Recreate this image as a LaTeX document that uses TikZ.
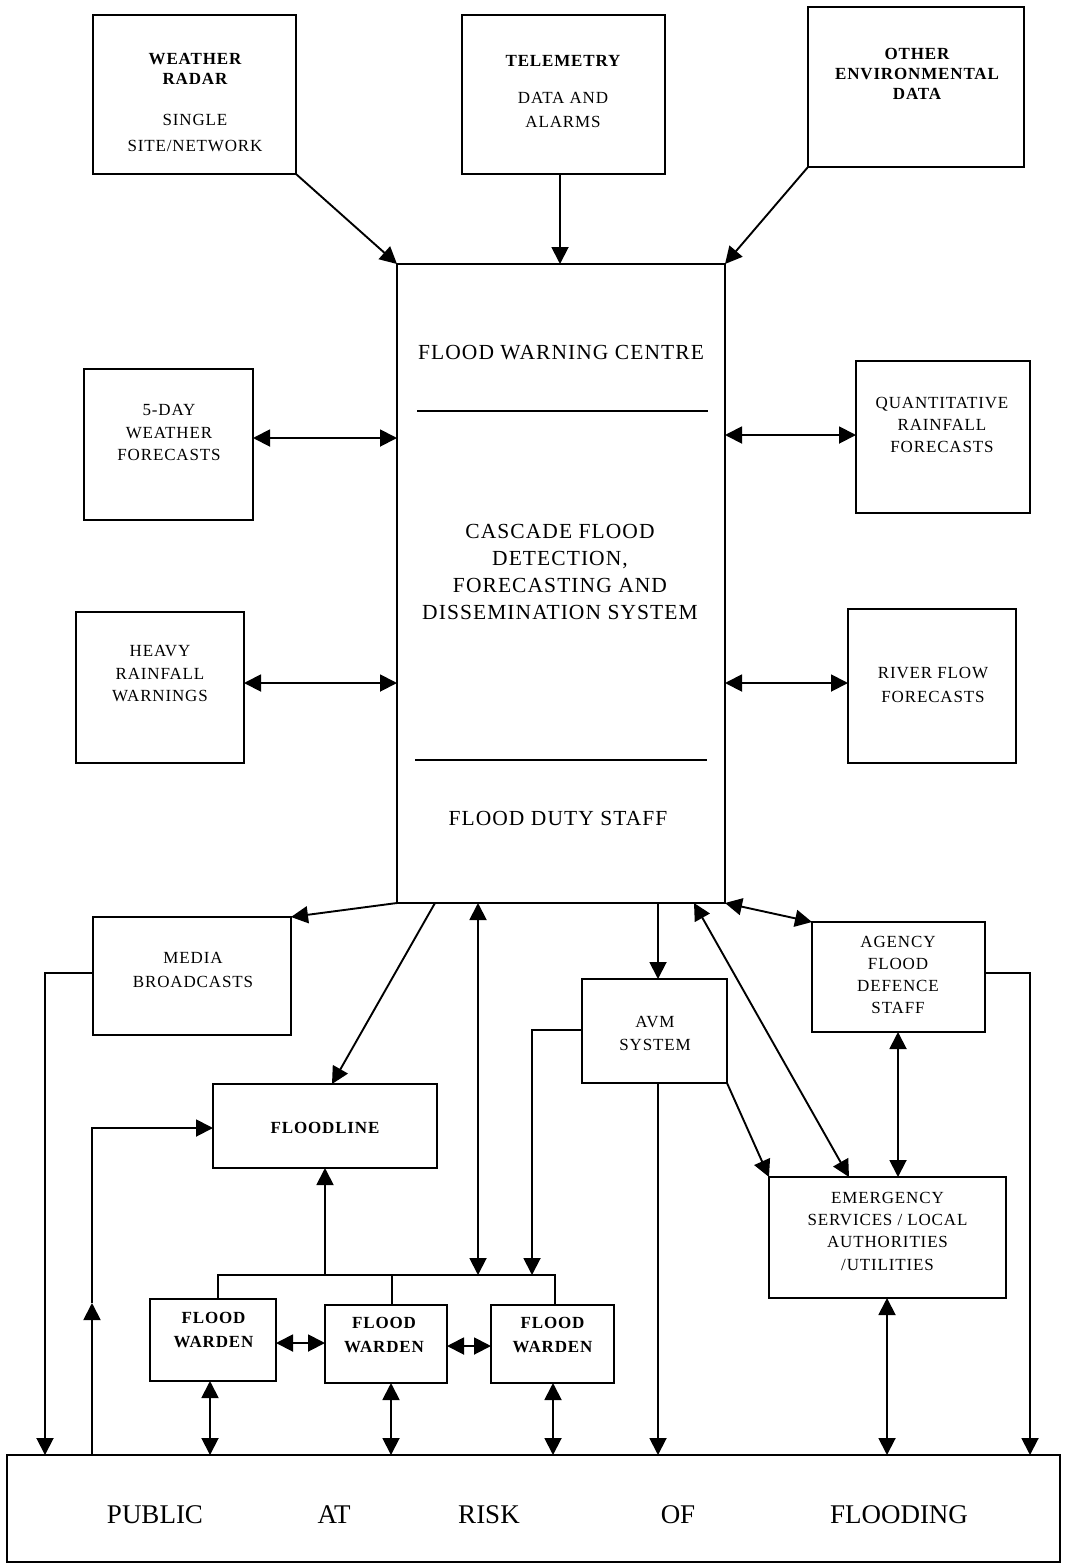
\documentclass[tikz,border=0pt]{standalone}
\usepackage{fontspec}
\setmainfont{Liberation Serif}
\newfontfamily\spaced[LetterSpace=5]{Liberation Serif}
\usetikzlibrary{arrows.meta,fit}
\begin{document}
\begin{tikzpicture}[x=1pt,y=-1pt,
  box/.style={draw,line width=1.9pt,inner sep=0pt,outer sep=0pt},
  link/.style={line width=1.9pt},
  tip/.style={-{Triangle[length=17pt,width=17pt]}},
  dtip/.style={{Triangle[length=17pt,width=17pt]}-{Triangle[length=17pt,width=17pt]}},
  sm/.style={align=center,inner sep=0pt,font=\spaced\fontsize{17}{#1}\selectfont},
  sm/.default=22.5,
  smb/.style={align=center,inner sep=0pt,font=\spaced\bfseries\fontsize{17}{#1}\selectfont},
  smb/.default=22.5,
  big/.style={align=center,inner sep=0pt,font=\spaced\fontsize{21.5}{26.7}\selectfont},
  pubtxt/.style={inner sep=0pt,font=\fontsize{27}{30}\selectfont}]
\useasboundingbox (0,0) rectangle (1069,1565);

% ---------- boxes ----------
\node[box,fit={(93,15) (296,174)}] (wr) {};
\node[box,fit={(462,15) (665,174)}] (tel) {};
\node[box,fit={(808,7) (1024,167)}] (oth) {};
\node[box,fit={(397,264) (725,903)}] (cen) {};
\node[box,fit={(84,369) (253,520)}] (fd) {};
\node[box,fit={(856,361) (1030,513)}] (qrf) {};
\node[box,fit={(76,612) (244,763)}] (hr) {};
\node[box,fit={(848,609) (1016,763)}] (rf) {};
\node[box,fit={(93,917) (291,1035)}] (med) {};
\node[box,fit={(213,1084) (437,1168)}] (fl) {};
\node[box,fit={(582,979) (727,1083)}] (avm) {};
\node[box,fit={(812,922) (985,1032)}] (ag) {};
\node[box,fit={(769,1177) (1006,1298)}] (em) {};
\node[box,fit={(150,1299) (276,1381)}] (w1) {};
\node[box,fit={(325,1305) (447,1383)}] (w2) {};
\node[box,fit={(491,1305) (614,1383)}] (w3) {};
\node[box,fit={(7,1455) (1060,1562)}] (pub) {};

% ---------- texts ----------
\node[smb=20] (twr1) at (195,69) {WEATHER\\RADAR};
\node[sm=26] (twr2) at (195,133.5) {SINGLE\\SITE/NETWORK};
\node[smb] (ttel1) at (563,61) {TELEMETRY};
\node[sm=24] (ttel2) at (563,110) {DATA AND\\ALARMS};
\node[smb=20] (toth) at (917,74) {OTHER\\ENVIRONMENTAL\\DATA};

\node[big] (tfwc) at (561,353) {FLOOD WARNING CENTRE};
\node[big] (tcas) at (560,572) {CASCADE FLOOD\\DETECTION,\\FORECASTING AND\\DISSEMINATION SYSTEM};
\node[big] (tfds) at (558,818) {FLOOD DUTY STAFF};
\draw[line width=1.6pt] (417,411) -- (708,411);
\draw[line width=1.6pt] (415,760) -- (707,760);

\node[sm] (tfd) at (169,432.5) {5-DAY\\WEATHER\\FORECASTS};
\node[sm=22] (tqrf) at (942,425) {QUANTITATIVE\\RAINFALL\\FORECASTS};
\node[sm] (thr) at (160,674) {HEAVY\\RAINFALL\\WARNINGS};
\node[sm=24] (trf) at (933,685) {RIVER FLOW\\FORECASTS};
\node[sm=24] (tmed) at (193,970) {MEDIA\\BROADCASTS};
\node[smb] (tfl) at (325,1128) {FLOODLINE};
\node[sm=23] (tavm) at (655,1033.5) {AVM\\SYSTEM};
\node[sm=22] (tag) at (898,975) {AGENCY\\FLOOD\\DEFENCE\\STAFF};
\node[sm=22.3] (tem) at (887.5,1231) {EMERGENCY\\SERVICES / LOCAL\\AUTHORITIES\\/UTILITIES};
\node[smb=24] (tw1) at (213.5,1330) {FLOOD\\WARDEN};
\node[smb=24] (tw2) at (384,1335) {FLOOD\\WARDEN};
\node[smb=24] (tw3) at (552.5,1335) {FLOOD\\WARDEN};

\node[pubtxt] (p1) at (155,1515) {PUBLIC};
\node[pubtxt] (p2) at (334,1515) {AT};
\node[pubtxt] (p3) at (489,1515) {RISK};
\node[pubtxt] (p4) at (678,1515) {OF};
\node[pubtxt] (p5) at (899,1515) {FLOODING};

% ---------- inputs to the centre ----------
\draw[link,tip] (wr.south east) -- (cen.north west);
\draw[link,tip] (tel.south -| 560,0) -- (cen.north -| 560,0);
\draw[link,tip] (oth.south west) -- (cen.north east);

% ---------- side exchanges ----------
\draw[link,dtip] (fd.east |- 0,438) -- (cen.west |- 0,438);
\draw[link,dtip] (hr.east |- 0,683) -- (cen.west |- 0,683);
\draw[link,dtip] (cen.east |- 0,435) -- (qrf.west |- 0,435);
\draw[link,dtip] (cen.east |- 0,683) -- (rf.west |- 0,683);

% ---------- outputs from the centre ----------
\draw[link,tip] (cen.south west) -- (med.north east);
\draw[link,tip] (cen.south -| 435,0) -- (fl.north -| 332,0);
\draw[link,dtip] (478,1275) -- (cen.south -| 478,0);
\draw[link,tip] (cen.south -| 658,0) -- (avm.north -| 658,0);
\draw[link,dtip] (cen.south -| 694,0) -- (em.north -| 849,0);
\draw[link,dtip] (cen.south east) -- (ag.north west);

% ---------- media ----------
\coordinate (mL) at (45,973);
\draw[link,tip] (med.west |- mL) -- (mL) -- (mL |- pub.north);

% ---------- public to floodline ----------
\coordinate (pL) at (92,1128);
\coordinate (pM) at (92,1303);
\draw[link,tip] (pL |- pub.north) -- (pM);
\draw[link,tip] (pM) -- (pL) -- (fl.west |- pL);

% ---------- warden bus ----------
\coordinate (busL) at (218,1275);
\coordinate (busR) at (555,1275);
\draw[link] (w1.north -| busL) -- (busL) -- (busR) -- (w3.north -| busR);
\draw[link] (w2.north -| 392,0) -- (392,1275);
\draw[link,tip] (fl.south |- busL) -- (fl.south);

% ---------- AVM ----------
\coordinate (aL) at (532,1030);
\draw[link,tip] (avm.west |- aL) -- (aL) -- (aL |- busL);
\draw[link,tip] (avm.south -| 658,0) -- (pub.north -| 658,0);
\draw[link,tip] (avm.south east) -- (em.north west);

% ---------- wardens ----------
\draw[link,dtip] (w1.east |- 0,1343) -- (w2.west |- 0,1343);
\draw[link,dtip] (w2.east |- 0,1346) -- (w3.west |- 0,1346);
\draw[link,dtip] (w1.south -| 210,0) -- (pub.north -| 210,0);
\draw[link,dtip] (w2.south -| 391,0) -- (pub.north -| 391,0);
\draw[link,dtip] (w3.south -| 553,0) -- (pub.north -| 553,0);

% ---------- agency and emergency services ----------
\draw[link,dtip] (ag.south -| 898,0) -- (em.north -| 898,0);
\coordinate (gR) at (1030,973);
\draw[link,tip] (ag.east |- gR) -- (gR) -- (gR |- pub.north);
\draw[link,dtip] (em.south -| 887,0) -- (pub.north -| 887,0);
\end{tikzpicture}
\end{document}
